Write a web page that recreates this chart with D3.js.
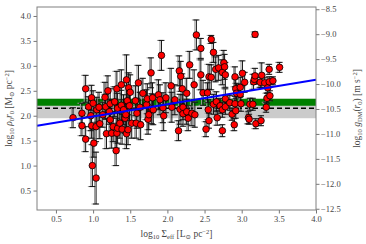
<!DOCTYPE html>
<meta charset="utf-8">
<head>
    <meta charset="utf-8">
    <title>rho0 r0 vs surface brightness</title>
    <script src="https://d3js.org/d3.v7.min.js"></script>
    <style>
        body { margin: 0; background: #fff; }
        text { font-family: 'Liberation Serif', 'DejaVu Serif', serif; }
    </style>
</head>
<body>
<div id="chart"></div>
<script>
    // galaxy sample: log10 Sigma_eff, log10 rho0*r0 and its error
    var logSigma = [
        0.73, 0.85, 0.85, 0.90, 0.90, 0.98, 0.98, 1.01, 0.99, 1.04, 1.04, 0.94, 1.00, 0.97, 1.05, 1.08, 1.09,
        1.13, 1.16, 1.17, 1.20, 1.18, 1.22, 1.23, 1.23, 1.25, 1.27, 1.29, 1.31, 1.32, 1.32, 1.33, 1.33, 1.36,
        1.38, 1.38, 1.39, 1.41, 1.43, 1.44, 1.45, 1.45, 1.46, 1.48, 1.47, 1.49, 1.50, 1.52, 1.57, 1.58, 1.59,
        1.61, 1.63, 1.64,
        1.67, 1.72, 1.73, 1.74, 1.75, 1.78, 1.79, 1.80, 1.81, 1.88, 1.90, 1.92, 1.94, 1.95, 1.98, 2.05, 2.06,
        2.10, 2.15, 2.16, 2.18, 2.17,
        2.20, 2.21, 2.21, 2.26, 2.26, 2.30, 2.28, 2.33, 2.36, 2.37, 2.39, 2.45, 2.45, 2.48, 2.54, 2.52, 2.55,
        2.56, 2.56, 2.59, 2.59, 2.62, 2.62, 2.65, 2.66, 2.67, 2.69,
        2.71, 2.74, 2.74, 2.74, 2.76, 2.77, 2.78, 2.78, 2.78, 2.84, 2.87, 2.90, 2.91, 2.91, 2.92, 2.92, 2.93,
        2.98, 2.98, 2.99, 3.01, 3.04, 3.09, 3.10, 3.11, 3.15, 3.16, 3.17, 3.18, 3.18, 3.19, 3.25, 3.27, 3.26,
        3.31, 3.33, 3.34, 3.35, 3.37, 3.37, 3.38, 3.42, 3.51
    ];
    var logRhoR0 = [
        1.96, 2.05, 1.80, 2.54, 1.53, 2.36, 1.80, 1.45, 1.00, 0.75, 1.78, 2.18, 2.25, 2.00, 2.12, 2.17, 1.84,
        2.02, 2.37, 2.18, 2.50, 1.64, 2.08, 2.24, 1.92, 1.65, 1.78, 2.28, 1.30, 1.65, 2.54, 2.15, 1.75, 1.85,
        2.21, 2.62, 1.73, 2.12, 1.95, 2.02, 2.72, 1.64, 2.30, 2.56, 1.72, 2.20, 2.47, 1.85, 2.30, 1.85, 2.05,
        2.66, 2.17, 1.82,
        2.45, 2.22, 2.34, 1.93, 2.02, 2.86, 2.14, 2.36, 2.12, 2.42, 2.32, 3.21, 2.16, 2.00, 2.36, 2.60, 2.17,
        2.32, 1.70, 2.90, 2.79, 2.13,
        2.54, 2.17, 2.04, 2.45, 2.08, 3.02, 1.95, 2.05, 2.62, 2.02, 3.62, 3.35, 2.82, 2.46, 2.46, 1.73, 2.12,
        2.78, 1.90, 3.53, 2.77, 3.27, 2.23, 2.93, 2.28, 1.96, 2.96,
        2.20, 2.87, 2.12, 1.70, 3.06, 2.98, 2.82, 2.34, 2.18, 2.26, 2.03, 1.82, 2.78, 2.24, 2.10, 2.54, 2.45,
        2.57, 2.43, 2.24, 2.85, 2.67, 1.96, 1.93, 2.23, 2.23, 2.68, 2.73, 3.63, 2.80, 1.84, 2.67, 2.81, 1.90,
        2.66, 2.17, 2.35, 2.56, 2.93, 2.68, 2.40, 2.70, 2.97
    ];
    var logRhoR0Err = [
        0.20, 0.20, 0.20, 0.27, 0.25, 0.25, 0.25, 0.28, 0.42, 0.52, 0.30, 0.20, 0.25, 0.30, 0.25, 0.30, 0.30,
        0.25, 0.30, 0.25, 0.30, 0.30, 0.25, 0.30, 0.30, 0.30, 0.30, 0.30, 0.30, 0.30, 0.35, 0.30, 0.30, 0.30,
        0.30, 0.30, 0.30, 0.30, 0.30, 0.30, 0.50, 0.30, 0.30, 0.30, 0.30, 0.30, 0.35, 0.30, 0.30, 0.30, 0.30,
        0.35, 0.30, 0.30,
        0.30, 0.30, 0.30, 0.30, 0.30, 0.30, 0.30, 0.30, 0.30, 0.30, 0.30, 0.30, 0.30, 0.30, 0.30, 0.35, 0.30,
        0.30, 0.20, 0.30, 0.30, 0.30,
        0.30, 0.25, 0.25, 0.30, 0.25, 0.27, 0.25, 0.25, 0.30, 0.25, 0.30, 0.20, 0.30, 0.25, 0.20, 0.15, 0.20,
        0.25, 0.15, 0.08, 0.25, 0.20, 0.20, 0.25, 0.20, 0.15, 0.25,
        0.15, 0.25, 0.15, 0.12, 0.25, 0.25, 0.25, 0.20, 0.15, 0.15, 0.12, 0.12, 0.20, 0.15, 0.15, 0.20, 0.20,
        0.20, 0.20, 0.15, 0.25, 0.20, 0.12, 0.10, 0.12, 0.12, 0.15, 0.10, 0.05, 0.15, 0.10, 0.10, 0.25, 0.10,
        0.10, 0.10, 0.10, 0.10, 0.10, 0.10, 0.10, 0.08, 0.10
    ];

    // reference bands (log10 rho0 r0), mean value and best fit line
    var greenBand = [2.20, 2.34];
    var grayBand = [1.95, 2.34];
    var meanLevel = 2.15;
    var fitX = [0.245, 4.0];
    var fitY = [1.80, 2.72];

    // offset between log10 rho0 r0 and log10 g_DM(r0)
    var gOffset = -12.635;

    var xTicks = [0.5, 1.0, 1.5, 2.0, 2.5, 3.0, 3.5, 4.0];
    var yTicks = [0.5, 1.0, 1.5, 2.0, 2.5, 3.0, 3.5, 4.0];
    var gTicks = [-12.5, -12.0, -11.5, -11.0, -10.5, -10.0, -9.5, -9.0, -8.5];

    var margin = {top: 7, right: 50, bottom: 34, left: 37},
        width = 366 - margin.left - margin.right,
        height = 244 - margin.top - margin.bottom;

    var svg = d3.select("#chart")
        .append("svg")
        .attr("width", 366)
        .attr("height", 244)
        .append("g")
        .attr("transform", "translate(" + margin.left + "," + margin.top + ")");

    var x = d3.scaleLinear().domain([0.245, 4.0]).range([0, width]);
    var y = d3.scaleLinear().domain([0.11, 4.18]).range([height, 0]);
    var y2 = d3.scaleLinear().domain([0.11 + gOffset, 4.18 + gOffset]).range([height, 0]);

    // bands
    svg.append("rect")
        .attr("x", 0).attr("width", width)
        .attr("y", y(grayBand[1])).attr("height", y(grayBand[0]) - y(grayBand[1]))
        .attr("fill", "#cbcbcb");
    svg.append("rect")
        .attr("x", 0).attr("width", width)
        .attr("y", y(greenBand[1])).attr("height", y(greenBand[0]) - y(greenBand[1]))
        .attr("fill", "#008000");
    svg.append("line")
        .attr("x1", 0).attr("x2", width)
        .attr("y1", y(meanLevel)).attr("y2", y(meanLevel))
        .attr("stroke", "#000").attr("stroke-width", 1.5)
        .attr("stroke-dasharray", "5,3");

    var pts = logSigma.map(function(d, i) {
        return {x: d, y: logRhoR0[i], e: logRhoR0Err[i]};
    });

    // error bars: gray shadow then black
    function bars(cls, dx, color) {
        var g = svg.append("g").attr("class", cls);
        var b = g.selectAll("g").data(pts).enter().append("g")
            .attr("stroke", color).attr("stroke-width", 1);
        b.append("line")
            .attr("x1", d => x(d.x) + dx).attr("x2", d => x(d.x) + dx)
            .attr("y1", d => y(d.y - d.e)).attr("y2", d => y(d.y + d.e));
        b.append("line")
            .attr("x1", d => x(d.x) + dx - 3).attr("x2", d => x(d.x) + dx + 3)
            .attr("y1", d => y(d.y + d.e)).attr("y2", d => y(d.y + d.e));
        b.append("line")
            .attr("x1", d => x(d.x) + dx - 3).attr("x2", d => x(d.x) + dx + 3)
            .attr("y1", d => y(d.y - d.e)).attr("y2", d => y(d.y - d.e));
    }
    bars("err-gray", -1.5, "#9a9a9a");
    bars("err-black", 0, "#111");

    svg.append("g").selectAll("circle")
        .data(pts).enter().append("circle")
        .attr("cx", d => x(d.x))
        .attr("cy", d => y(d.y))
        .attr("r", 3.3)
        .attr("fill", "#ff0000")
        .attr("stroke", "#000")
        .attr("stroke-width", 0.8);

    // best fit
    svg.append("line")
        .attr("x1", x(fitX[0])).attr("x2", x(fitX[1]))
        .attr("y1", y(fitY[0])).attr("y2", y(fitY[1]))
        .attr("stroke", "#0000ff").attr("stroke-width", 2);

    // axes
    var fmt = d3.format(".1f");
    function styleAxis(g) {
        g.selectAll(".domain").remove();
        g.selectAll("line").attr("stroke", "#777");
        g.selectAll("text").attr("fill", "#444").style("font-size", "8.5px");
    }
    svg.append("g")
        .attr("transform", "translate(0," + height + ")")
        .call(d3.axisBottom(x).tickValues(xTicks).tickFormat(fmt).tickSize(3.5).tickPadding(2.5))
        .call(styleAxis);
    svg.append("g")
        .call(d3.axisLeft(y).tickValues(yTicks).tickFormat(fmt).tickSize(3.5).tickPadding(2.5))
        .call(styleAxis);
    svg.append("g")
        .attr("transform", "translate(" + width + ",0)")
        .call(d3.axisRight(y2).tickValues(gTicks).tickFormat(fmt).tickSize(3.5).tickPadding(1.5))
        .call(styleAxis);

    // frame
    svg.append("rect")
        .attr("width", width).attr("height", height)
        .attr("fill", "none").attr("stroke", "#808080").attr("stroke-width", 1);

    // axis titles
    var xl = svg.append("text")
        .attr("x", width / 2).attr("y", height + 27)
        .attr("text-anchor", "middle").attr("fill", "#444").style("font-size", "9.5px");
    xl.append("tspan").text("log");
    xl.append("tspan").attr("baseline-shift", "-25%").style("font-size", "6.5px").text("10");
    xl.append("tspan").text(" Σ");
    xl.append("tspan").attr("baseline-shift", "-25%").style("font-size", "6.5px").text("eff");
    xl.append("tspan").text(" [L");
    xl.append("tspan").attr("baseline-shift", "-25%").style("font-size", "6.5px").text("⊙");
    xl.append("tspan").text(" pc");
    xl.append("tspan").attr("baseline-shift", "45%").style("font-size", "6.5px").text("−2");
    xl.append("tspan").text("]");

    var yl = svg.append("text")
        .attr("transform", "translate(" + (-25) + "," + (height / 2) + ") rotate(-90)")
        .attr("text-anchor", "middle").attr("fill", "#444").style("font-size", "9.5px");
    yl.append("tspan").text("log");
    yl.append("tspan").attr("baseline-shift", "-25%").style("font-size", "6.5px").text("10");
    yl.append("tspan").style("font-style", "italic").text(" ρ");
    yl.append("tspan").attr("baseline-shift", "-25%").style("font-size", "6.5px").text("0");
    yl.append("tspan").style("font-style", "italic").text("r");
    yl.append("tspan").attr("baseline-shift", "-25%").style("font-size", "6.5px").text("0");
    yl.append("tspan").text(" [M");
    yl.append("tspan").attr("baseline-shift", "-25%").style("font-size", "6.5px").text("⊙");
    yl.append("tspan").text(" pc");
    yl.append("tspan").attr("baseline-shift", "45%").style("font-size", "6.5px").text("−2");
    yl.append("tspan").text("]");

    var gl = svg.append("text")
        .attr("transform", "translate(" + (width + 44) + "," + (height / 2) + ") rotate(-90)")
        .attr("text-anchor", "middle").attr("fill", "#444").style("font-size", "9.5px");
    gl.append("tspan").text("log");
    gl.append("tspan").attr("baseline-shift", "-25%").style("font-size", "6.5px").text("10");
    gl.append("tspan").style("font-style", "italic").text(" g");
    gl.append("tspan").attr("baseline-shift", "-25%").style("font-size", "6.5px").text("DM");
    gl.append("tspan").text("(");
    gl.append("tspan").style("font-style", "italic").text("r");
    gl.append("tspan").attr("baseline-shift", "-25%").style("font-size", "6.5px").text("0");
    gl.append("tspan").text(") [m s");
    gl.append("tspan").attr("baseline-shift", "45%").style("font-size", "6.5px").text("−2");
    gl.append("tspan").text("]");
</script>
</body>
